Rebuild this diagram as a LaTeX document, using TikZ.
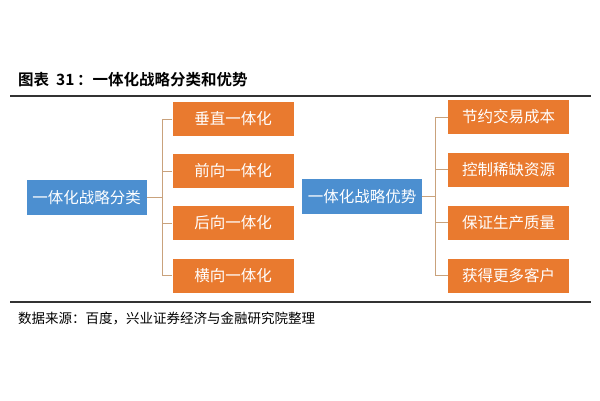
\documentclass[tikz,border=0pt]{standalone}
\usepackage{fontspec}
\setmainfont{Noto Sans CJK SC}
\newfontfamily\cjkb{Noto Sans CJK SC Bold}
\begin{document}
\begin{tikzpicture}[x=1pt,y=-1pt,
  ob/.style={fill=orgc,minimum width=121pt,minimum height=34pt,inner sep=0pt,text=white,font=\fontsize{15.5}{15.5}\selectfont},
  bb/.style={fill=bluec,minimum width=120pt,minimum height=35pt,inner sep=0pt,text=white,font=\fontsize{15.5}{15.5}\selectfont},
  br/.style={draw=brc,line width=1pt}]
\definecolor{orgc}{HTML}{E97A2F}
\definecolor{bluec}{HTML}{4C8FD0}
\definecolor{brc}{HTML}{C9A27C}
\useasboundingbox (0,0) rectangle (600,400);
\fill[white] (0,0) rectangle (600,400);
\node[anchor=west,inner sep=0pt,font=\cjkb\fontsize{15.5}{15.5}\selectfont] (t) at (18,80) {图表\ \ 31\,：一体化战略分类和优势};
\draw[line width=1.2pt,black!80] (10,96) -- (591,96);
\draw[line width=1.2pt,black!80] (10,302) -- (591,302);
\node[anchor=west,inner sep=0pt,font=\fontsize{13.5}{13.5}\selectfont] (s) at (18,318) {数据来源：百度，兴业证券经济与金融研究院整理};
\node[bb] (L) at (86.5,197.5) {一体化战略分类};
\node[ob] (l1) at (233,119) {垂直一体化};
\node[ob] (l2) at (233,171) {前向一体化};
\node[ob] (l3) at (233,223) {后向一体化};
\node[ob] (l4) at (233,275.5) {横向一体化};
\node[bb] (M) at (362,196.5) {一体化战略优势};
\node[ob] (r1) at (508.5,117) {节约交易成本};
\node[ob] (r2) at (508.5,169.5) {控制稀缺资源};
\node[ob] (r3) at (508.5,222.5) {保证生产质量};
\node[ob] (r4) at (508.5,275.5) {获得更多客户};
\coordinate (lb) at (162,0);
\draw[br] (L.east) -- (lb |- L.east);
\draw[br] (l1.west) -| (lb |- l1.west) -- (lb |- l4.west) -- (l4.west);
\draw[br] (l2.west) -- (lb |- l2.west);
\draw[br] (l3.west) -- (lb |- l3.west);
\coordinate (rb) at (435,0);
\draw[br] (M.east) -- (rb |- M.east);
\draw[br] (r1.west) -- (rb |- r1.west) -- (rb |- r4.west) -- (r4.west);
\draw[br] (r2.west) -- (rb |- r2.west);
\draw[br] (r3.west) -- (rb |- r3.west);
\end{tikzpicture}
\end{document}
